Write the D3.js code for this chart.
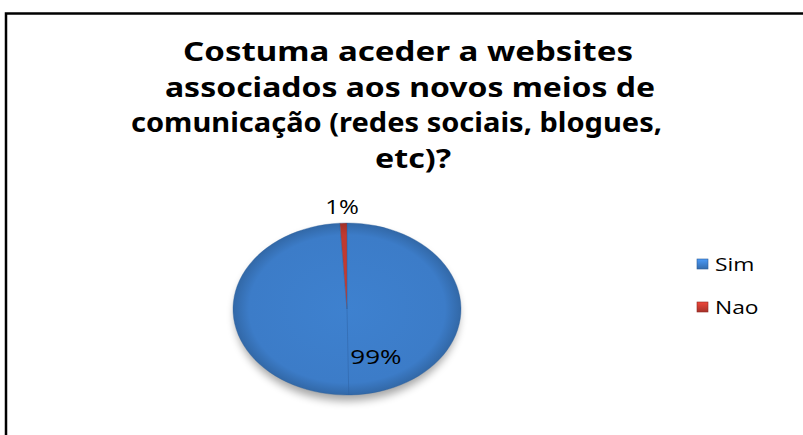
<!DOCTYPE html>
<html>
<head>
<meta charset="utf-8">
<script src="https://cdn.jsdelivr.net/npm/d3@7"></script>
<style>
  body { margin: 0; background: #fff; }
  svg { display: block; }
</style>
</head>
<body>
<script>
const categories = ["Sim", "Nao"];
const values = [99, 1];
const labels = ["99%", "1%"];
const colors = ["#3C7CC8", "#C0392F"];
const titleLines = [
  "Costuma aceder a websites",
  "associados aos novos meios de",
  "comunicação (redes sociais, blogues,",
  "etc)?"
];

const width = 803;
const height = 435;

const svg = d3.select("body").append("svg")
  .attr("width", width)
  .attr("height", height)
  .attr("viewBox", [0, 0, width, height]);

const defs = svg.append("defs");

// chart frame (runs off the right and bottom of the picture)
svg.append("rect")
  .attr("x", 6).attr("y", 13.5)
  .attr("width", 820).attr("height", 440)
  .attr("fill", "#fff")
  .attr("stroke", "#000")
  .attr("stroke-width", 2.5);

// title: the original is horizontally stretched, so each line is fitted to its width
const titleX = [183, 165, 131, 375];
const titleW = [450, 490, 531, 76];
svg.append("g")
  .attr("font-family", "'Noto Sans', sans-serif")
  .attr("font-weight", "bold")
  .attr("font-size", 26)
  .attr("fill", "#000")
  .selectAll("text")
  .data(titleLines)
  .join("text")
  .attr("x", (d, i) => titleX[i])
  .attr("y", (d, i) => 61 + i * 35.7)
  .attr("textLength", (d, i) => titleW[i])
  .attr("lengthAdjust", "spacingAndGlyphs")
  .text(d => d);

// pie
const cx = 347, cy = 309, rx = 114, ry = 86;

const blur = defs.append("filter").attr("id", "shadow")
  .attr("x", "-20%").attr("y", "-20%").attr("width", "140%").attr("height", "140%");
blur.append("feGaussianBlur").attr("stdDeviation", 4);

colors.forEach((c, i) => {
  const g = defs.append("radialGradient").attr("id", "grad" + i)
    .attr("gradientUnits", "userSpaceOnUse")
    .attr("cx", 0).attr("cy", 0).attr("r", rx);
  g.append("stop").attr("offset", "0%").attr("stop-color", d3.color(c).brighter(0.1));
  g.append("stop").attr("offset", "86%").attr("stop-color", c);
  g.append("stop").attr("offset", "100%").attr("stop-color", d3.color(c).darker(0.5));
});

const pie = d3.pie().sort(null).value(d => d.value);
const arcs = pie(categories.map((c, i) => ({name: c, value: values[i], label: labels[i], i})));
const arc = d3.arc().innerRadius(0).outerRadius(rx);

const pieG = svg.append("g").attr("transform", `translate(${cx},${cy})`);

pieG.append("ellipse")
  .attr("cx", 0).attr("cy", 6)
  .attr("rx", rx - 2).attr("ry", ry)
  .attr("fill", "#000").attr("opacity", 0.35)
  .attr("filter", "url(#shadow)");

const flat = pieG.append("g").attr("transform", `scale(1,${ry / rx})`);

flat.selectAll("path")
  .data(arcs)
  .join("path")
  .attr("d", arc)
  .attr("fill", d => `url(#grad${d.data.i})`)
  .attr("stroke", "#2C5E9C")
  .attr("stroke-opacity", 0.5)
  .attr("stroke-width", 0.8);

// faint edge down the lower half, as in the 3D rendering
flat.append("line")
  .attr("x1", 0).attr("y1", 0)
  .attr("x2", rx * Math.sin(Math.PI * 0.995)).attr("y2", -rx * Math.cos(Math.PI * 0.995))
  .attr("stroke", "#2C5E9C").attr("stroke-opacity", 0.5).attr("stroke-width", 1);

// data labels
const yk = ry / rx;
pieG.selectAll("text.lbl")
  .data(arcs)
  .join("text")
  .attr("class", "lbl")
  .attr("font-family", "'Open Sans', sans-serif")
  .attr("font-size", 20)
  .attr("fill", "#000")
  .attr("text-anchor", "middle")
  .attr("dominant-baseline", "central")
  .attr("transform", d => {
    if (d.data.value < 5) {
      const a = (d.startAngle + d.endAngle) / 2;
      const r = rx * 1.08;
      return `translate(${r * Math.sin(a) - 1},${-r * Math.cos(a) * yk - 10}) scale(1.2,1)`;
    }
    const [x, y] = d3.arc().innerRadius(0).outerRadius(rx * 1.1).centroid(d);
    return `translate(${x + 27},${y * yk})  scale(1.3,1)`;
  })
  .text(d => d.data.label);

// legend
categories.forEach((c, i) => {
  const lg = defs.append("linearGradient").attr("id", "lg" + i)
    .attr("x1", 0).attr("y1", 0).attr("x2", 0).attr("y2", 1);
  lg.append("stop").attr("offset", "0%").attr("stop-color", d3.color(colors[i]).brighter(0.6));
  lg.append("stop").attr("offset", "100%").attr("stop-color", d3.color(colors[i]).darker(0.4));
});

const legend = svg.append("g").attr("transform", "translate(697,264)");
const item = legend.selectAll("g")
  .data(categories)
  .join("g")
  .attr("transform", (d, i) => `translate(0,${i * 43})`);

item.append("rect")
  .attr("x", 0).attr("y", -5)
  .attr("width", 11).attr("height", 10)
  .attr("fill", (d, i) => `url(#lg${i})`)
  .attr("stroke", (d, i) => d3.color(colors[i]).darker(0.8))
  .attr("stroke-width", 0.6);

item.append("text")
  .attr("transform", "translate(18,0) scale(1.2,1)")
  .attr("dominant-baseline", "central")
  .attr("font-family", "'Open Sans', sans-serif")
  .attr("font-size", 19)
  .attr("fill", "#000")
  .text(d => d);
</script>
</body>
</html>
